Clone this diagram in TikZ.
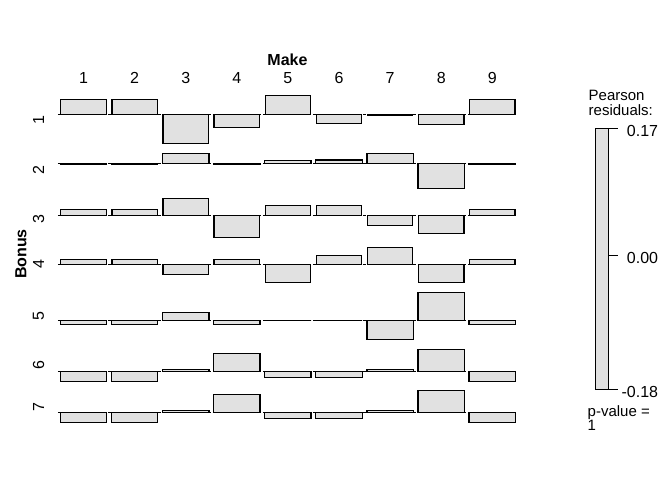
\documentclass[tikz,border=0pt]{standalone}
\usepackage{fontspec}
\setmainfont{Liberation Sans}
\definecolor{resfill}{RGB}{225,225,225}
\tikzset{
  resbox/.style={draw=black, fill=resfill, line width=1.3pt},
  zeroline/.style={draw=black, line width=0.9pt, dash pattern=on 3pt off 2pt},
  lab/.style={inner sep=0pt, font=\fontsize{16}{16}\selectfont},
  boldlab/.style={lab, font=\fontsize{16}{16}\selectfont\bfseries},
  leglab/.style={inner sep=0pt, font=\fontsize{15}{15}\selectfont},
}
\begin{document}
\begin{tikzpicture}[x=1pt, y=-1pt]
  \useasboundingbox (0,0) rectangle (672,480);
  % variable names
  \node[boldlab, anchor=base] (make) at (287.5,65) {Make};
  \node[boldlab, rotate=90] (bonus) at (21,254) {Bonus};
  % column labels
  \foreach \c in {1,...,9}
    \node[lab, anchor=base] (col-\c) at ({83.5+51.1*(\c-1)},83.3) {\c};
  % rows: baseline, label y, bar width, residual extents
  \foreach \r/\base/\ly/\w/\vals in {
      1/114.3/120/45.4/{-15,-15,29,13,-19,9,0.7,10,-15},
      2/163.7/170/46.4/{0.7,0.7,-10.4,0.7,-3.4,-3.7,-10.4,24.6,0.7},
      3/215.3/219/45.4/{-6,-6,-17,22,-10,-10,10,18,-6},
      4/264.3/264/45.4/{-5,-5,10,-5,18,-9,-17,18,-5},
      5/320.3/316.5/46.4/{4,4,-8,4,0,0,19,-28,4},
      6/371.3/365/46.4/{10,10,-2,-18,6,6,-2,-22,10},
      7/412.3/407/46.4/{10,10,-2,-18,6,6,-2,-22,10}}
  {
    \node[lab, rotate=90] (row-\r) at (38.5,\ly) {\r};
    \draw[zeroline] (57.9,\base) -- (517.5,\base);
    \foreach \d [count=\c] in \vals
      \draw[resbox] ({83.5+51.1*(\c-1)-\w/2},\base) rectangle ({83.5+51.1*(\c-1)+\w/2},{\base+\d});
  }
  % legend
  \node[leglab, anchor=base west] (pearson) at (588.5,100.7) {Pearson};
  \node[leglab, anchor=base west] (residuals) at (588.5,115) {residuals:};
  \draw[resbox] (595.7,128.3) rectangle (608.7,389.3);
  \foreach \t/\txt/\name in {128.3/0.17/top, 255.7/0.00/mid, 389.3/-0.18/bot}
  {
    \draw[line width=1.3pt] (608.7,\t) -- (618.3,\t);
    \node[lab, anchor=base east] (tick-\name) at (658.3,{\t+7.7}) {\txt};
  }
  \node[leglab, anchor=base west] (pvalue) at (587.5,416) {p-value =};
  \node[leglab, anchor=base west] (pval) at (587.5,430) {1};
\end{tikzpicture}
\end{document}
